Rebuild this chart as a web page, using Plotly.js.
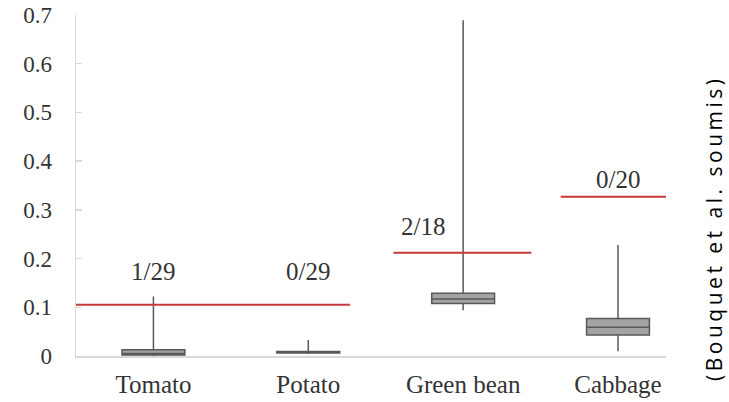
<!DOCTYPE html>
<html>
<head>
<meta charset="utf-8">
<script src="https://cdn.plot.ly/plotly-3.0.1.min.js"></script>
<style>html,body{margin:0;padding:0;background:#fff;}#chart{width:729px;height:402px;}</style>
</head>
<body>
<div id="chart"></div>
<script>
// Data
const categories = ["Tomato", "Potato", "Green bean", "Cabbage"];
const lowerFence = [0.000, 0.004, 0.094, 0.010];
const q1 = [0.002, 0.006, 0.108, 0.043];
const median = [0.005, 0.007, 0.117, 0.059];
const q3 = [0.013, 0.009, 0.129, 0.077];
const upperFence = [0.122, 0.033, 0.689, 0.228];
const thresholds = [0.105, 0.212, 0.327];
const ratioLabels = ["1/29", "0/29", "2/18", "0/20"];
const ratioLabelY = [0.173, 0.173, 0.265, 0.363];
const yTicks = [0, 0.1, 0.2, 0.3, 0.4, 0.5, 0.6, 0.7];

const idx = categories.map((c, i) => i);

const boxTrace = {
  type: "box",
  x: idx,
  q1: q1, median: median, q3: q3,
  lowerfence: lowerFence, upperfence: upperFence,
  width: 0.406,
  whiskerwidth: 0,
  fillcolor: "#a3a3a3",
  line: {color: "#595959", width: 1.5},
  hoverinfo: "skip",
  showlegend: false
};

// threshold line extents (layout)
const lineSpans = [[-0.5, 1.27], [1.55, 2.44], [2.63, 3.31]];
const redTraces = thresholds.map((t, i) => ({
  type: "scatter", mode: "lines",
  x: lineSpans[i], y: [t, t],
  line: {color: "#c9383a", width: 2},
  hoverinfo: "skip", showlegend: false
}));

const serif = "Liberation Serif, Times New Roman, serif";
const labelX = [0, 1, 1.74, 3];
const annotations = ratioLabels.map((t, i) => ({
  x: labelX[i], y: ratioLabelY[i], xref: "x", yref: "y",
  text: t, showarrow: false, xanchor: "center", yanchor: "middle",
  font: {family: serif, size: 25, color: "#333333"}
}));
annotations.push({
  x: 1.081, y: 0.375, xref: "paper", yref: "paper",
  text: '<span style="letter-spacing:3.5px">(Bouquet et al. soumis)</span>', textangle: -90, showarrow: false,
  xanchor: "center", yanchor: "middle",
  font: {family: "Open Sans, sans-serif", size: 21, color: "#000000"}
});

const layout = {
  width: 729, height: 402,
  margin: {l: 76, r: 63, t: 15, b: 46},
  paper_bgcolor: "#ffffff", plot_bgcolor: "#ffffff",
  xaxis: {
    range: [-0.5, 3.31], tickvals: idx, ticktext: categories,
    showgrid: false, zeroline: false, showline: true, linecolor: "#d9d9d9", linewidth: 1.5,
    ticks: "", tickfont: {family: serif, size: 25, color: "#333333"},
    ticklabelstandoff: 5
  },
  yaxis: {
    range: [0, 0.7], tickvals: yTicks, ticktext: yTicks.map(v => v === 0 ? "0" : v.toFixed(1)),
    showgrid: false, zeroline: false, showline: true, linecolor: "#d9d9d9", linewidth: 1.5,
    ticks: "inside", ticklen: 6, tickcolor: "#d9d9d9", tickwidth: 1.5,
    tickfont: {family: serif, size: 23, color: "#333333"},
    ticklabelstandoff: 18
  },
  annotations: annotations
};

Plotly.newPlot("chart", [boxTrace, ...redTraces], layout, {displayModeBar: false, staticPlot: true});
</script>
</body>
</html>
